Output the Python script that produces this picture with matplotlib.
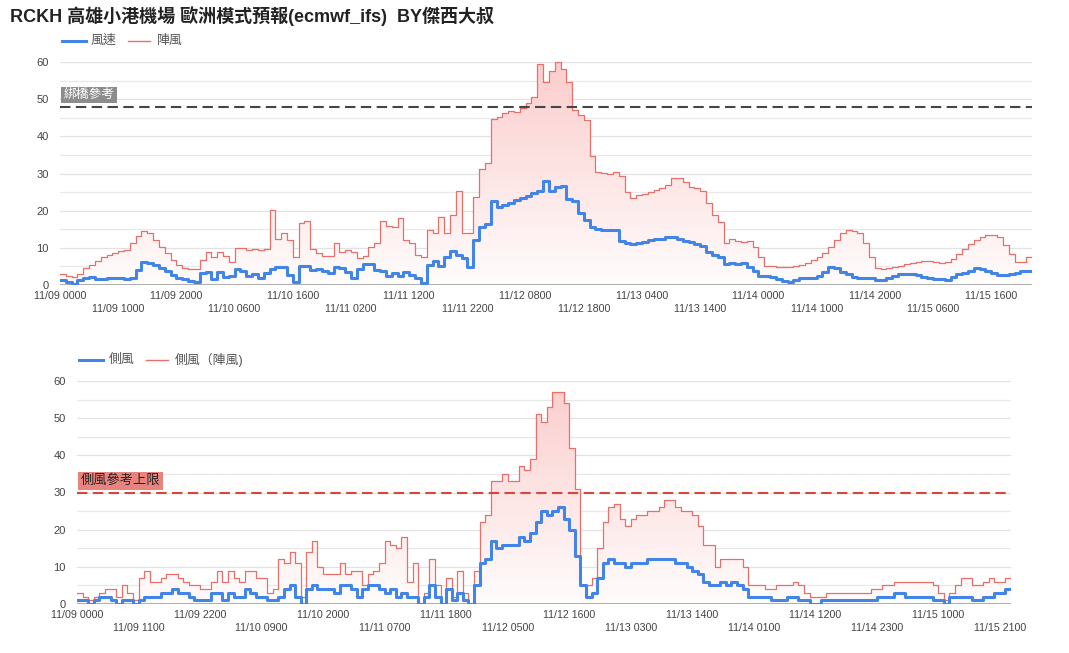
import numpy as np
import matplotlib
matplotlib.use('Agg')
import matplotlib.pyplot as plt
from matplotlib.lines import Line2D

plt.rcParams['font.family'] = ['Liberation Sans', 'Noto Sans CJK TC', 'DejaVu Sans']

# ---------------- data (hourly, hour 0 = 11/09 0000) ----------------
hours = np.arange(168)

wind_speed = [1.3, 0.9, 0.4, 1.3, 1.8, 2.2, 1.7, 1.5, 1.9, 2.0,
              1.8, 1.5, 2.0, 4.0, 6.1, 5.8, 5.3, 4.6, 3.7, 2.8,
              2.0, 1.5, 1.1, 0.7, 3.1, 3.4, 1.7, 3.6, 2.2, 2.4,
              4.3, 3.9, 2.4, 3.0, 1.9, 3.3, 4.4, 4.9, 4.9, 2.7,
              0.7, 5.2, 5.2, 4.0, 4.2, 3.9, 3.3, 4.8, 4.5, 3.6,
              2.0, 4.3, 5.6,
              5.7, 4.0, 3.9, 2.4, 3.1, 2.5, 3.6, 2.7, 1.8, 0.6,
              5.5, 6.5, 5.1, 7.6, 9.2, 8.1, 7.2, 4.9, 12.0, 15.6,
              16.4, 22.6, 20.9, 21.6, 22.0, 22.9, 23.4, 24.0, 24.8, 25.2,
              28.1, 25.2, 26.4, 26.7, 23.1, 22.6, 19.3, 17.5, 15.5, 15.0,
              14.8, 14.8, 14.8, 11.8, 11.4, 11.1, 11.4, 11.7, 12.1, 12.3,
              12.5, 12.8, 12.8, 12.3, 11.9, 11.6, 11.1, 10.4, 9.0, 8.2,
              7.5,
              5.6, 5.8, 5.6, 5.8, 4.9, 3.8, 2.5, 2.5, 2.2, 1.6,
              1.1, 0.7, 1.3, 1.8, 1.8, 2.0, 2.4, 3.6, 4.8, 4.5,
              3.6, 2.9, 2.2, 2.0, 1.8, 1.8, 1.3, 1.3, 2.0, 2.4,
              2.9, 2.9, 2.9, 2.7, 2.2, 2.0, 1.6, 1.6, 1.3, 2.2,
              2.9, 3.1, 3.9, 4.5, 4.2, 3.8, 3.1, 2.7, 2.7, 3.0,
              3.3, 3.8, 3.8, 3.8]

wind_gust = [2.9, 2.5, 2.2, 3.0, 4.5, 5.4, 6.5, 7.5, 8.1, 8.5,
             9.2, 9.5, 11.2, 13.2, 14.6, 13.9, 12.1, 10.3, 8.7, 6.6,
             5.4, 4.7, 4.3, 4.3, 6.6, 9.0, 7.6, 9.0, 7.8, 6.3,
             9.9, 9.9, 9.4, 9.6, 9.4, 9.6, 20.2, 12.3, 14.1, 12.0,
             7.5, 16.6, 17.1, 9.6, 8.5, 7.8, 7.8, 11.4, 9.0, 9.3,
             9.0, 7.2, 7.8, 10.1,
             11.4, 17.3, 15.9, 15.7, 18.1, 12.1, 11.4, 8.1, 7.5, 14.8,
             14.1, 18.4, 13.9, 18.9, 25.2, 13.9, 13.9, 23.8, 31.3, 32.8,
             44.7, 45.2, 46.3, 46.7, 46.5, 47.6, 49.0, 50.5, 59.5, 54.6,
             57.5, 59.9, 58.0, 54.6, 47.2, 45.8, 44.3, 34.6, 30.3, 30.1,
             30.0, 30.3, 29.4, 24.9, 23.4, 24.1, 24.5, 24.9, 25.6, 26.2,
             27.0, 28.9, 28.8, 27.6, 26.5, 26.1, 25.2, 22.0, 18.7, 16.9,
             11.2, 12.3, 11.9, 11.7, 11.9, 10.3, 7.6, 5.2, 5.2, 4.9,
             4.9, 4.9, 5.2, 5.4, 6.0, 6.6, 7.4, 8.5, 10.3, 12.1,
             13.9, 14.8, 14.6, 13.9, 11.2, 7.6, 4.5, 4.3, 4.5, 4.8,
             5.1, 5.6, 6.0, 6.3, 6.5, 6.5, 6.3, 5.8, 6.1, 6.9,
             8.4, 9.6, 11.1, 12.1, 13.0, 13.5, 13.5, 12.8, 10.8, 8.4,
             6.3, 6.3, 7.5, 7.8]

cross_wind = [1, 1, 0, 1, 2, 2, 1, 0, 1, 1,
              0, 1, 2, 2, 2, 3, 3, 4, 3, 3,
              2, 1, 1, 1, 3, 3, 1, 3, 2, 2,
              4, 3, 2, 2, 1, 1, 2, 4, 5, 2,
              0, 4, 5, 4, 4, 4, 3, 5, 5, 4,
              2, 4, 5,
              5, 4, 3, 4, 2, 3, 2, 2, 0, 2,
              5, 2, 0, 4, 1, 3, 1, 0, 5, 11,
              12, 17, 15, 16, 16, 16, 18, 17, 19, 22,
              25, 24, 25, 26, 23, 20, 13, 5, 2, 3,
              7, 11, 12, 11, 11, 10, 11, 11, 11, 12,
              12, 12, 12, 12, 11, 11, 10, 9, 8, 6,
              5,
              5, 6, 5, 6, 5, 4, 2, 2, 2, 2,
              1, 1, 1, 2, 2, 1, 1, 0, 0, 1,
              1, 1, 1, 1, 1, 1, 1, 1, 1, 2,
              2, 2, 3, 3, 2, 2, 2, 2, 2, 1,
              1, 0, 2, 2, 2, 2, 1, 1, 2, 2,
              3, 3, 4, 4]

cross_gust = [3, 2, 1, 2, 3, 4, 4, 2, 5, 3,
              1, 7, 9, 6, 6, 7, 8, 8, 7, 6,
              5, 5, 4, 4, 6, 9, 6, 9, 7, 6,
              9, 9, 7, 7, 3, 4, 12, 11, 14, 11,
              2, 14, 17, 10, 8, 8, 8, 11, 8, 9,
              9, 5, 8,
              9, 11, 17, 16, 15, 18, 6, 11, 0, 3,
              12, 5, 0, 7, 2, 9, 3, 0, 9, 22,
              24, 33, 33, 35, 33, 33, 37, 36, 39, 51,
              49, 53, 57, 57, 54, 42, 31, 5, 5, 7,
              15, 22, 26, 27, 23, 21, 23, 24, 24, 25,
              25, 26, 28, 28, 26, 25, 25, 24, 21, 16,
              16,
              10, 12, 12, 12, 12, 10, 5, 5, 5, 4,
              4, 5, 5, 5, 6, 5, 3, 2, 2, 2,
              3, 3, 3, 3, 3, 3, 3, 3, 4, 4,
              5, 5, 6, 6, 6, 6, 6, 6, 6, 5,
              3, 1, 3, 5, 7, 7, 5, 5, 6, 7,
              6, 6, 7, 8]

top_tick_hours = list(range(0, 168, 10))
top_tick_labels = ["11/09 0000", "11/09 1000", "11/09 2000", "11/10 0600",
                   "11/10 1600", "11/11 0200", "11/11 1200", "11/11 2200",
                   "11/12 0800", "11/12 1800", "11/13 0400", "11/13 1400",
                   "11/14 0000", "11/14 1000", "11/14 2000", "11/15 0600",
                   "11/15 1600"]
bot_tick_hours = list(range(0, 168, 11))
bot_tick_labels = ["11/09 0000", "11/09 1100", "11/09 2200", "11/10 0900",
                   "11/10 2000", "11/11 0700", "11/11 1800", "11/12 0500",
                   "11/12 1600", "11/13 0300", "11/13 1400", "11/14 0100",
                   "11/14 1200", "11/14 2300", "11/15 1000", "11/15 2100"]

bridge_ref = 48
cross_ref = 30

title = "RCKH 高雄小港機場 歐洲模式預報(ecmwf_ifs)  BY傑西大叔"

# ---------------- styling ----------------
W, H = 1069, 653
BLUE = '#4285e6'
RED = '#e6706a'
TXT = '#444444'

fig = plt.figure(figsize=(W / 100, H / 100), dpi=100)
fig.patch.set_facecolor('white')


def make_axes(l, r, t, b):
    return fig.add_axes([l / W, 1 - b / H, (r - l) / W, (b - t) / H])


def gradient_fill(ax, x, y):
    poly = ax.fill_between(x, y, 0, step='post', facecolor='none',
                           edgecolor='none')
    path = poly.get_paths()[0]
    top = np.array([251, 205, 204]) / 255.0
    bot = np.array([255, 252, 252]) / 255.0
    t = np.linspace(0, 1, 256).reshape(-1, 1, 1)
    img = top * (1 - t) + bot * t
    im = ax.imshow(img, extent=[x[0], x[-1], 0, 60], origin='upper',
                   aspect='auto', zorder=1, interpolation='bilinear')
    im.set_clip_path(path, transform=ax.transData)


def style_axes(ax, ticks, labels):
    ax.set_xlim(0, 167)
    ax.set_ylim(0, 60)
    for s in ['top', 'right', 'left', 'bottom']:
        ax.spines[s].set_visible(False)
    ax.set_yticks(range(0, 61, 10))
    ax.set_yticks(range(5, 60, 10), minor=True)
    ax.grid(True, axis='y', which='major', color='#e2e2e2', lw=0.9, zorder=0)
    ax.grid(True, axis='y', which='minor', color='#e8e8e8', lw=0.9, zorder=0)
    ax.axhline(0, color='#a8a8a8', lw=1.3, zorder=4)
    lab = [l if i % 2 == 0 else '\n' + l for i, l in enumerate(labels)]
    ax.set_xticks(ticks, lab)
    ax.tick_params(axis='x', length=0, pad=4.5, labelsize=7.7, labelcolor=TXT)
    ax.tick_params(axis='y', which='both', length=0, pad=8, labelsize=8,
                   labelcolor=TXT)
    for t in ax.get_xticklabels():
        t.set_linespacing(1.4)
    ax.set_axisbelow(True)


# ---------------- top chart ----------------
ax1 = make_axes(60, 1032, 62, 285)
gradient_fill(ax1, hours, wind_gust)
ax1.step(hours, wind_gust, where='post', color=RED, lw=0.9, zorder=3)
ax1.step(hours, wind_speed, where='post', color=BLUE, lw=2.2, zorder=5)
ax1.axhline(bridge_ref, color='#454545', lw=1.5, ls=(0, (5, 2.6)), zorder=6)
ax1.annotate('綁橋參考', xy=(0, bridge_ref), xytext=(2.5, 4),
             textcoords='offset points', ha='left', va='bottom',
             fontsize=9.2, color='white', zorder=7,
             bbox=dict(boxstyle='square,pad=0.18', fc='#8c8c8c', ec='none'))
style_axes(ax1, top_tick_hours, top_tick_labels)

# ---------------- bottom chart ----------------
ax2 = make_axes(77, 1011, 381, 604)
gradient_fill(ax2, hours, cross_gust)
ax2.step(hours, cross_gust, where='post', color=RED, lw=0.9, zorder=3)
ax2.step(hours, cross_wind, where='post', color=BLUE, lw=2.2, zorder=5)
ax2.axhline(cross_ref, color='#d9453c', lw=1.5, ls=(0, (5, 2.6)), zorder=6)
ax2.annotate('側風參考上限', xy=(0, cross_ref), xytext=(2.5, 4),
             textcoords='offset points', ha='left', va='bottom',
             fontsize=9.5, color='#222222', zorder=7,
             bbox=dict(boxstyle='square,pad=0.2', fc='#e8837e', ec='none'))
style_axes(ax2, bot_tick_hours, bot_tick_labels)

# ---------------- title & legends ----------------
fig.text(10 / W, 1 - 16 / H, title, fontsize=13, fontweight='bold',
         color='#222222', ha='left', va='center')


def legend_item(x0, x1, y, color, lw, label, tx):
    fig.add_artist(Line2D([x0 / W, x1 / W], [1 - y / H, 1 - y / H],
                          transform=fig.transFigure, color=color, lw=lw))
    fig.text(tx / W, 1 - y / H, label, fontsize=9.3, color='#555555',
             ha='left', va='center')


legend_item(62, 86, 41, BLUE, 2.2, '風速', 91)
legend_item(128, 150, 41, RED, 1.0, '陣風', 157)
legend_item(79, 103, 360, BLUE, 2.2, '側風', 109)
legend_item(146, 168, 360, RED, 1.0, '側風（陣風)', 175)

fig.savefig('out.png', dpi=100, facecolor='white')
